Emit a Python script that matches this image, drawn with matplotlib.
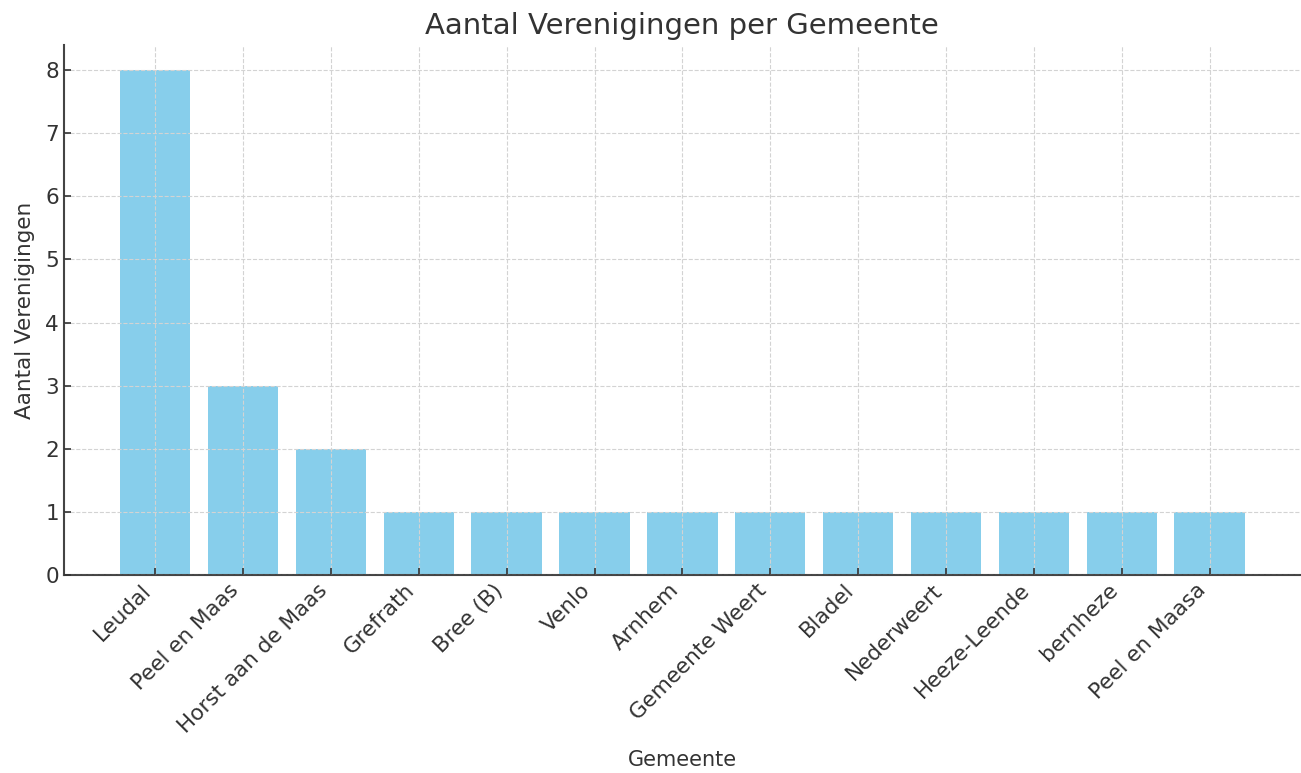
import matplotlib.pyplot as plt

gemeenten = ["Leudal", "Peel en Maas", "Horst aan de Maas", "Grefrath", "Bree (B)", "Venlo",
             "Arnhem", "Gemeente Weert", "Bladel", "Nederweert", "Heeze-Leende", "bernheze",
             "Peel en Maasa"]
aantallen = [8, 3, 2, 1, 1, 1, 1, 1, 1, 1, 1, 1, 1]

plt.rcParams['text.color'] = '#333333'
plt.rcParams['axes.labelcolor'] = '#333333'
plt.rcParams['xtick.color'] = '#333333'
plt.rcParams['ytick.color'] = '#333333'

fig = plt.figure(figsize=(13.01, 7.73), dpi=100)
ax = fig.add_axes([0.049, 0.256, 0.951, 0.686])

ax.bar(gemeenten, aantallen, color='skyblue', width=0.8)
ax.set_ylim(0, 8.4)

ax.set_title("Aantal Verenigingen per Gemeente", fontsize=21, pad=8)
ax.set_xlabel("Gemeente", fontsize=15, labelpad=10)
ax.set_ylabel("Aantal Verenigingen", fontsize=15.5, labelpad=7)

ax.tick_params(axis='both', direction='in', labelsize=15.5, length=5, width=1.2)
plt.setp(ax.get_xticklabels(), rotation=45, ha='right')

ax.grid(True, linestyle='--', color='#d3d3d3', linewidth=0.8)
ax.set_axisbelow(False)

for s in ['top', 'right']:
    ax.spines[s].set_visible(False)
for s in ['left', 'bottom']:
    ax.spines[s].set_color('#444444')
    ax.spines[s].set_linewidth(1.5)

fig.savefig("out.png", dpi=100)
